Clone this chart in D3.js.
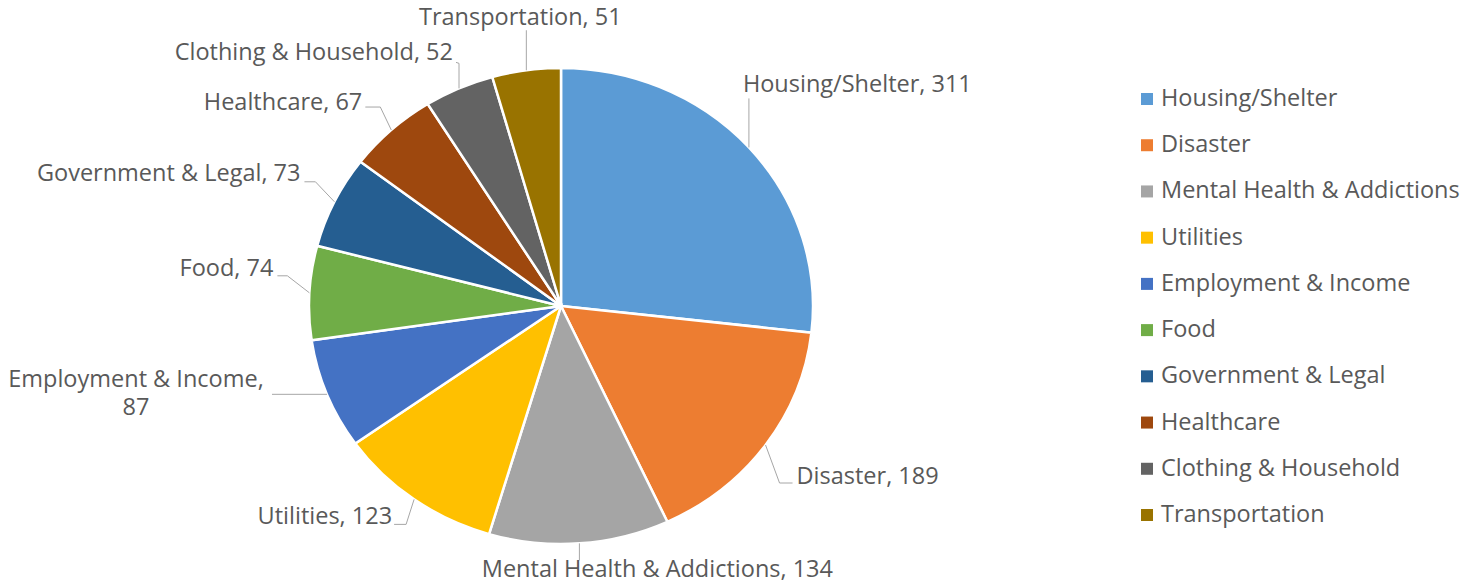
<!DOCTYPE html>
<html>
<head>
<meta charset="utf-8">
<script src="https://cdn.jsdelivr.net/npm/d3@7"></script>
<style>
  html, body { margin: 0; padding: 0; background: #fff; }
  svg text { font-family: "Open Sans", Lato, sans-serif; fill: #595959; }
</style>
</head>
<body>
<div id="chart"></div>
<script>
'use strict';

// ── Data ──────────────────────────────────────────────────
const categories = [
  'Housing/Shelter', 'Disaster', 'Mental Health & Addictions', 'Utilities',
  'Employment & Income', 'Food', 'Government & Legal', 'Healthcare',
  'Clothing & Household', 'Transportation'
];
const counts = [311, 189, 134, 123, 87, 74, 73, 67, 52, 51];
const colours = [
  '#5B9BD5', '#ED7D31', '#A5A5A5', '#FFC000', '#4472C4',
  '#70AD47', '#255E91', '#9E480E', '#636363', '#997300'
];

// ── Layout ────────────────────────────────────────────────
const W = 1481, H = 586;
const cx = 561, cy = 306;
const rx = 252, ry = 238;     // picture is slightly stretched horizontally
const FONT = 23.5;

// label placement, relative to the slice's edge point (dx/dy), Excel-like
// leg: leader bends; text: offset of the text anchor from the leader end
const labelLayout = [
  { leg: [[0, -49]],            text: [-6, -6],   anchor: 'start'  },  // Housing
  { leg: [[14, 38], [27, 38]],  text: [4, 1],     anchor: 'start'  },  // Disaster
  { leg: [[0, 17]],             text: [78, 17],   anchor: 'middle' },  // Mental
  { leg: [[-8, 25], [-20, 25]], text: [-2, 0],    anchor: 'end'    },  // Utilities
  { leg: [[-55, 0]],            text: [-136, -7], anchor: 'middle' },  // Employment
  { leg: [[-22, -17], [-32, -17]], text: [-4, 0], anchor: 'end'    },  // Food
  { leg: [[-19, -20], [-30, -20]], text: [-4, -1], anchor: 'end'   },  // Gov
  { leg: [[-11, -23], [-26, -23]], text: [-3, 3], anchor: 'end'    },  // Healthcare
  { leg: [[0, -25], [-3, -26]], text: [-3, -2],   anchor: 'end'    },  // Clothing
  { leg: [[0, -40]],            text: [-6, -5],   anchor: 'middle' }   // Transport
];

const data = categories.map((c, i) => ({ name: c, value: counts[i], colour: colours[i] }));

const svg = d3.select('#chart').append('svg')
  .attr('width', W)
  .attr('height', H);

// ── Pie ───────────────────────────────────────────────────
const pie = d3.pie().sort(null).value(d => d.value);
const arcs = pie(data);

const arc = d3.arc().innerRadius(0).outerRadius(rx);

const pieG = svg.append('g')
  .attr('transform', `translate(${cx},${cy}) scale(1,${ry / rx})`);

pieG.selectAll('path')
  .data(arcs)
  .join('path')
  .attr('d', arc)
  .attr('fill', d => d.data.colour)
  .attr('stroke', '#fff')
  .attr('stroke-width', 2.5)
  .attr('vector-effect', 'non-scaling-stroke');

// ── Data labels + leader lines ────────────────────────────
const labelG = svg.append('g');

arcs.forEach((d, i) => {
  const mid = (d.startAngle + d.endAngle) / 2;
  const ex = cx + rx * Math.sin(mid);
  const ey = cy - ry * Math.cos(mid);
  const lay = labelLayout[i];

  const pts = [[ex, ey]].concat(lay.leg.map(p => [ex + p[0], ey + p[1]]));
  labelG.append('path')
    .attr('d', d3.line()(pts))
    .attr('fill', 'none')
    .attr('stroke', '#a6a6a6')
    .attr('stroke-width', 1);

  const end = pts[pts.length - 1];
  const tx = end[0] + lay.text[0];
  const ty = end[1] + lay.text[1];

  const t = labelG.append('text')
    .attr('x', tx)
    .attr('y', ty)
    .attr('text-anchor', lay.anchor)
    .attr('font-size', FONT);

  if (d.data.name === 'Employment & Income') {
    // wraps onto two lines in the original
    t.append('tspan').attr('x', tx).text(d.data.name + ',');
    t.append('tspan').attr('x', tx).attr('dy', 28).text(d.data.value);
  } else {
    t.text(`${d.data.name}, ${d.data.value}`);
  }
});

// ── Legend ────────────────────────────────────────────────
const legend = svg.append('g')
  .attr('transform', 'translate(1141,0)');

const rowY = d3.scalePoint()
  .domain(categories)
  .range([106, 522]);

const rows = legend.selectAll('g')
  .data(data)
  .join('g')
  .attr('transform', d => `translate(0,${rowY(d.name)})`);

rows.append('rect')
  .attr('x', 0)
  .attr('y', -13)
  .attr('width', 12)
  .attr('height', 12)
  .attr('fill', d => d.colour);

rows.append('text')
  .attr('x', 20)
  .attr('y', 0)
  .attr('font-size', FONT)
  .text(d => d.name);
</script>
</body>
</html>
